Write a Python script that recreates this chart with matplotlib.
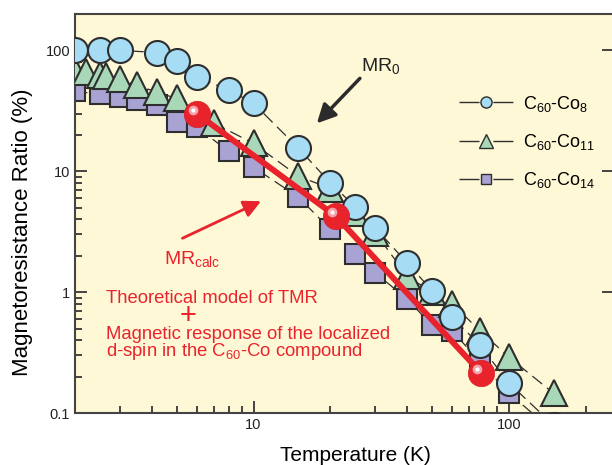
import matplotlib.pyplot as plt
from matplotlib.lines import Line2D
from matplotlib.transforms import ScaledTranslation

plt.rcParams['font.family'] = ['Liberation Sans', 'DejaVu Sans']
plt.rcParams['mathtext.fontset'] = 'custom'
plt.rcParams['mathtext.rm'] = 'Liberation Sans'
plt.rcParams['mathtext.it'] = 'Liberation Sans'

# C60-Co8 (circles)
co8_T = [2, 2.5, 3, 4.2, 5, 6, 8, 10, 15, 20, 25, 30, 40, 50, 60, 77, 100, 150]
co8_MR = [100, 100, 100, 96, 81, 60, 47, 36.5, 15.5, 8.0, 5.1, 3.4, 1.74, 1.03, 0.62, 0.365, 0.177, 0.079]

# C60-Co11 (triangles)
co11_T = [2, 2.2, 2.5, 2.65, 3, 3.5, 4.2, 5, 7, 10, 15, 20, 25, 30, 40, 50, 60, 77, 100, 150]
co11_MR = [68, 66, 63, 61, 57.5, 51.4, 45, 40, 25, 17, 9.1, 7.2, 4.5, 3.1, 1.35, 1.0, 0.8, 0.48, 0.29, 0.145]

# C60-Co14 (squares)
co14_T = [2, 2.5, 3, 3.5, 4.2, 5, 6, 8, 10, 15, 20, 25, 30, 40, 50, 60, 77, 100, 150]
co14_MR = [46, 43.3, 41, 38.6, 35.1, 25.4, 23.1, 14.6, 10.8, 6.1, 3.3, 2.06, 1.44, 0.875, 0.53, 0.48, 0.264, 0.146, 0.07]

# calculated MR (red balls)
calc_T = [6, 21, 78]
calc_MR = [30, 4.25, 0.214]

labels = ['C$_{60}$-Co$_{8}$', 'C$_{60}$-Co$_{11}$', 'C$_{60}$-Co$_{14}$']

red = '#E8232C'
edge = '#2E2E2E'

fig = plt.figure(figsize=(6.12, 4.65), dpi=100)
ax = fig.add_axes([75/612, 52/465, 539/612, 399/465])
ax.set_facecolor('#FFF8D6')
ax.set_xscale('log')
ax.set_yscale('log')
ax.set_xlim(2, 258)
ax.set_ylim(0.1, 200)

line_kw = dict(color=edge, lw=0.9, dashes=(10, 5))
ax.plot(co14_T, co14_MR, marker='s', ms=15, mfc='#A8A3D2', mec=edge, mew=1.5, zorder=2, **line_kw)
ax.plot(co11_T, co11_MR, marker='^', ms=19, mfc='#A9D8B8', mec=edge, mew=1.5, zorder=3, **line_kw)
ax.plot(co8_T, co8_MR, marker='o', ms=18, mfc='#A6DDF4', mec=edge, mew=1.5, zorder=4, **line_kw)

# MRcalc line + shiny balls
ax.plot(calc_T, calc_MR, color=red, lw=4.3, zorder=5, solid_capstyle='butt')
ax.plot(calc_T, calc_MR, ls='none', marker='o', ms=19, mfc=red, mec='#D81E27', mew=0.5, zorder=6)
hl = ax.transData + ScaledTranslation(-4/100, 4/100, fig.dpi_scale_trans)
ax.plot(calc_T, calc_MR, ls='none', marker='o', ms=7, mfc='#F4A3AA', mec='none', zorder=7, transform=hl)
ax.plot(calc_T, calc_MR, ls='none', marker='o', ms=3, mfc='white', mec='none', zorder=8, transform=hl)

# arrows and annotations
ax.annotate('', xy=(17.7, 24.9), xytext=(26.1, 58.7),
            arrowprops=dict(arrowstyle='-|>', color='#2B2B2B', lw=2.5, mutation_scale=28,
                            shrinkA=0, shrinkB=0), zorder=9)
ax.text(26.3, 74, r'MR$_\mathregular{0}$', fontsize=14, color='#222222', va='center', ha='left')

ax.annotate('', xy=(10.7, 5.65), xytext=(5.27, 2.79),
            arrowprops=dict(arrowstyle='-|>', color=red, lw=2, mutation_scale=26,
                            shrinkA=0, shrinkB=0), zorder=9)
ax.text(4.48, 1.87, r'MR$_\mathregular{calc}$', fontsize=14, color=red, va='center', ha='left')

ax.text(2.65, 0.811, 'Theoretical model of TMR', fontsize=13.3, color=red, va='baseline', ha='left')
ax.text(5.56, 0.63, '+', fontsize=21, color=red, va='center', ha='center')
ax.text(2.65, 0.409, 'Magnetic response of the localized', fontsize=13.3, color=red,
        va='baseline', ha='left')
ax.text(2.65, 0.296, 'd-spin in the C$_{60}$-Co compound', fontsize=13.3, color=red,
        va='baseline', ha='left')

# axes styling
for s in ax.spines.values():
    s.set_color('#444444')
    s.set_linewidth(1.5)
ax.tick_params(which='both', direction='in', right=True, top=False, colors='#444444',
               labelcolor='#222222', width=1.4, labelsize=10.5)
ax.tick_params(which='major', length=8.5)
ax.tick_params(which='minor', length=5, right=False)
ax.set_xticks([10, 100])
ax.set_xticklabels(['10', '100'])
ax.set_yticks([0.1, 1, 10, 100])
ax.set_yticklabels(['0.1', '1', '10', '100'])

ax.set_xlabel('Temperature (K)', fontsize=15)
ax.set_ylabel('Magnetoresistance Ratio (%)', fontsize=16)
ax.xaxis.set_label_coords(0.521, -0.083)
ax.yaxis.set_label_coords(-0.078, 0.454)

handles = [
    Line2D([], [], color=edge, lw=1, dashes=(14.4, 10), marker='o', ms=8, mfc='#A6DDF4', mec=edge, mew=1),
    Line2D([], [], color=edge, lw=1, dashes=(14.4, 10), marker='^', ms=10, mfc='#A9D8B8', mec=edge, mew=1),
    Line2D([], [], color=edge, lw=1, dashes=(14.4, 10), marker='s', ms=7.5, mfc='#A8A3D2', mec=edge, mew=1),
]
ax.legend(handles, labels, loc='upper left', bbox_to_anchor=(0.712, 0.80), frameon=False,
          fontsize=13, handlelength=3.0, handletextpad=0.55, labelspacing=1.0, borderpad=0,
          borderaxespad=0)

fig.savefig('out.png', dpi=100)
